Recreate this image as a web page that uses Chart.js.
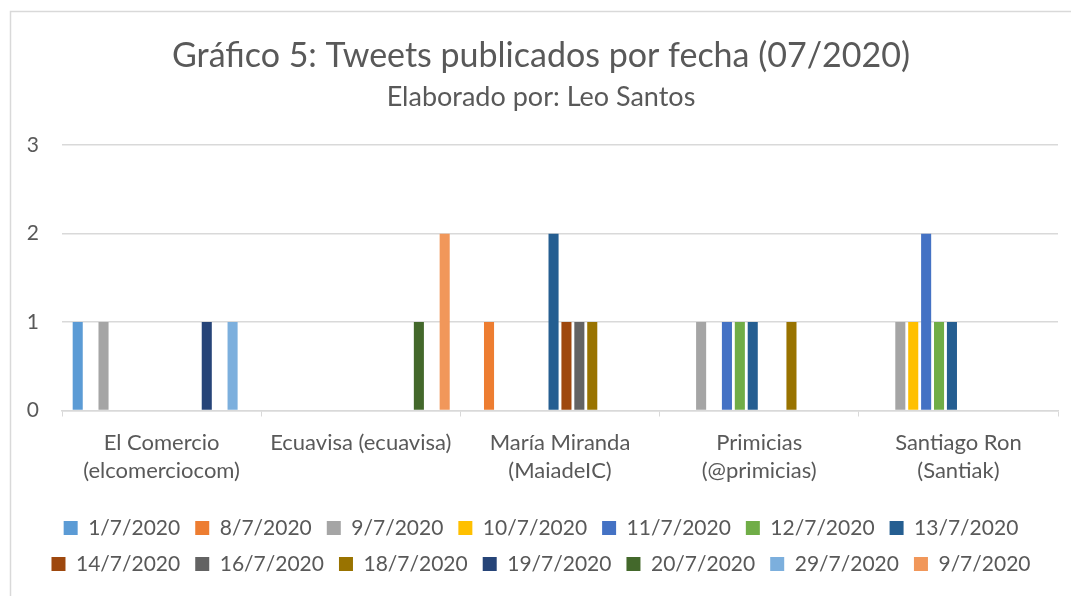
<!DOCTYPE html>
<html>
<head>
<meta charset="utf-8">
<script src="https://cdn.jsdelivr.net/npm/chart.js@4"></script>
<style>
  html, body { margin: 0; padding: 0; background: #fff; }
  #wrap { position: relative; width: 1071px; height: 596px; }
</style>
</head>
<body>
<div id="wrap"><canvas id="c" width="1071" height="596"></canvas></div>
<script>
const categories = [
  ["El Comercio", "(elcomerciocom)"],
  ["Ecuavisa (ecuavisa)"],
  ["María Miranda", "(MaiadeIC)"],
  ["Primicias", "(@primicias)"],
  ["Santiago Ron", "(Santiak)"]
];
const seriesNames = ["1/7/2020", "8/7/2020", "9/7/2020", "10/7/2020", "11/7/2020", "12/7/2020", "13/7/2020",
                     "14/7/2020", "16/7/2020", "18/7/2020", "19/7/2020", "20/7/2020", "29/7/2020", "9/7/2020"];
const seriesColors = ["#5B9BD5", "#ED7D31", "#A5A5A5", "#FFC000", "#4472C4", "#70AD47", "#255E91",
                      "#9E480E", "#636363", "#997300", "#264478", "#43682B", "#7CAFDD", "#F1975A"];
// values per series, in category order
const s_01_07 = [1, null, null, null, null];
const s_08_07 = [null, null, 1, null, null];
const s_09_07 = [1, null, null, 1, 1];
const s_10_07 = [null, null, null, null, 1];
const s_11_07 = [null, null, null, 1, 2];
const s_12_07 = [null, null, null, 1, 1];
const s_13_07 = [null, null, 2, 1, 1];
const s_14_07 = [null, null, 1, null, null];
const s_16_07 = [null, null, 1, null, null];
const s_18_07 = [null, null, 1, 1, null];
const s_19_07 = [1, null, null, null, null];
const s_20_07 = [null, 1, null, null, null];
const s_29_07 = [1, null, null, null, null];
const s_09_07b = [null, 2, null, null, null];
const seriesValues = [s_01_07, s_08_07, s_09_07, s_10_07, s_11_07, s_12_07, s_13_07,
                      s_14_07, s_16_07, s_18_07, s_19_07, s_20_07, s_29_07, s_09_07b];
const yTicks = [0, 1, 2, 3];

const FONT = "Lato";
const TXT = "#595959";
const GRID = "#D9D9D9";

const borderPlugin = {
  id: 'outerBorder',
  beforeDraw(chart) {
    const ctx = chart.ctx;
    ctx.save();
    ctx.fillStyle = '#fff';
    ctx.fillRect(0, 0, chart.width, chart.height);
    ctx.strokeStyle = GRID;
    ctx.lineWidth = 1.5;
    ctx.strokeRect(10.5, 11.5, chart.width + 50, chart.height + 50);
    ctx.restore();
  }
};

new Chart(document.getElementById('c'), {
  type: 'bar',
  data: {
    labels: categories,
    datasets: seriesNames.map((n, i) => ({
      label: n,
      data: seriesValues[i],
      backgroundColor: seriesColors[i],
      borderWidth: 0,
      categoryPercentage: 0.907,
      barPercentage: 0.78
    }))
  },
  plugins: [borderPlugin],
  options: {
    responsive: false,
    animation: false,
    devicePixelRatio: 1,
    layout: { padding: { left: 24, right: 13, top: 0, bottom: 11.5 } },
    plugins: {
      title: {
        display: true,
        text: "Gráfico 5: Tweets publicados por fecha (07/2020)",
        color: TXT,
        font: { family: FONT, size: 34, weight: 'normal', lineHeight: 1.2 },
        padding: { top: 36, bottom: 0 }
      },
      subtitle: {
        display: true,
        text: "Elaborado por: Leo Santos",
        color: TXT,
        font: { family: FONT, size: 27, weight: 'normal', lineHeight: 1.2 },
        padding: { top: 4, bottom: 32 }
      },
      legend: {
        position: 'bottom',
        fullSize: true,
        labels: {
          color: TXT,
          font: { family: FONT, size: 21 },
          boxWidth: 14,
          boxHeight: 14,
          padding: 15
        }
      },
      tooltip: { enabled: false }
    },
    scales: {
      x: {
        grid: { drawOnChartArea: false, drawTicks: true, tickLength: 6, color: GRID, offset: true },
        border: { display: true, color: GRID, width: 1.5 },
        ticks: { color: TXT, font: { family: FONT, size: 22, lineHeight: 1.28 }, padding: 12, maxRotation: 0, autoSkip: false },
        afterFit(s) { s.height = 92; }
      },
      y: {
        min: 0, max: 3,
        afterBuildTicks(s) { s.ticks = yTicks.map(v => ({ value: v })); },
        grid: { color: GRID, lineWidth: 1.5, drawTicks: false },
        border: { display: false },
        ticks: { color: TXT, font: { family: FONT, size: 21 }, padding: 23 },
        afterFit(s) { s.width = 38; }
      }
    }
  }
});
</script>
</body>
</html>
